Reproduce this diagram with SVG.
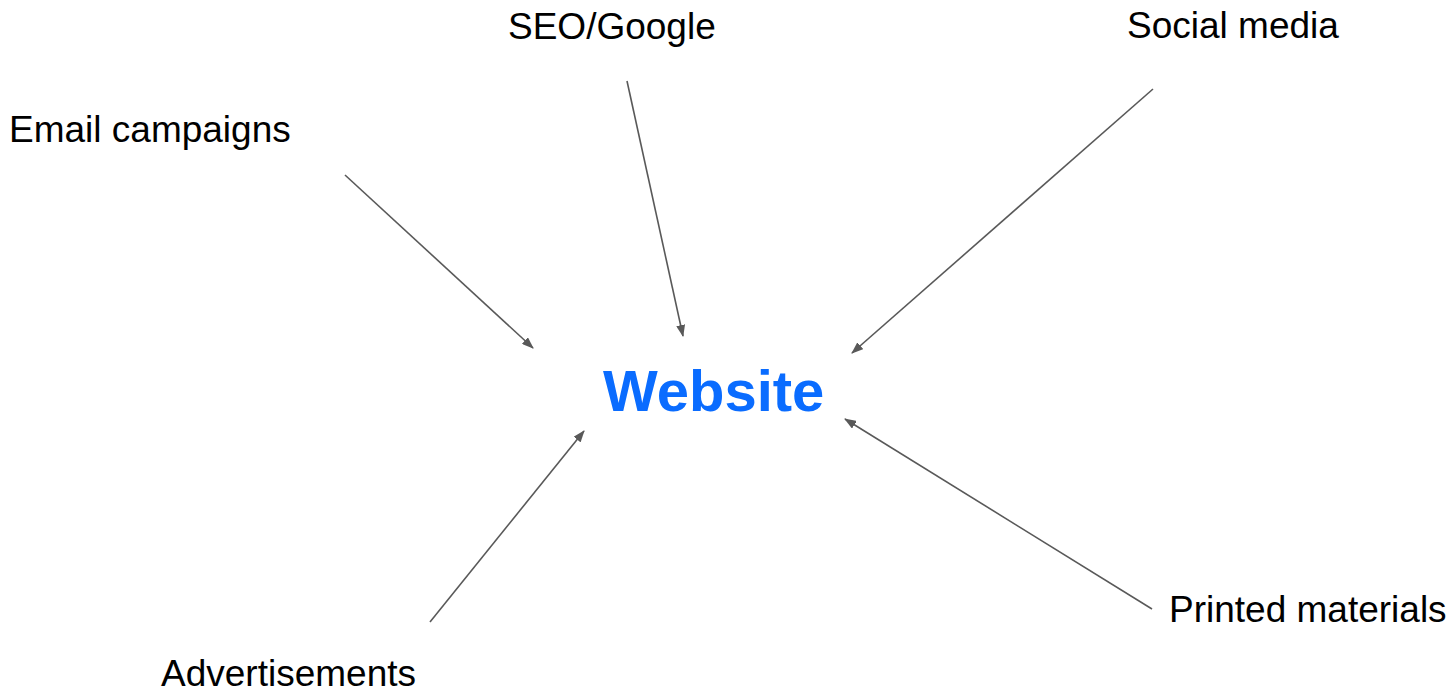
<svg xmlns="http://www.w3.org/2000/svg" width="1454" height="692" viewBox="0 0 1454 692">
<style>
.lbl{font-family:"Liberation Sans",Arial,sans-serif;font-size:37px;fill:#000}
.main{font-family:"Liberation Sans",Arial,sans-serif;font-size:58px;font-weight:bold;fill:#0a6cff}
.conn{stroke:#595959;stroke-width:1.6;fill:none;marker-end:url(#ah)}
</style>
<defs>
<marker id="ah" markerWidth="12" markerHeight="9" refX="11" refY="4.5" orient="auto" markerUnits="userSpaceOnUse" viewBox="0 0 12 9">
<path d="M0,0 L12,4.5 L0,9 Z" fill="#595959"/>
</marker>
</defs>
<rect width="1454" height="692" fill="#fff"/>
<g id="connectors">
<line class="conn" x1="345" y1="175" x2="533" y2="348"/>
<line class="conn" x1="627" y1="81" x2="683" y2="336"/>
<line class="conn" x1="1153" y1="89" x2="852" y2="353"/>
<line class="conn" x1="1152" y1="609" x2="845" y2="419"/>
<line class="conn" x1="430" y1="622" x2="584" y2="431"/>
</g>
<g id="website"><text class="main" x="603" y="411">Website</text></g>
<g id="email"><text class="lbl" x="9" y="142">Email campaigns</text></g>
<g id="seo"><text class="lbl" x="508" y="39">SEO/Google</text></g>
<g id="social"><text class="lbl" x="1127" y="38">Social media</text></g>
<g id="printed"><text class="lbl" x="1169" y="622">Printed materials</text></g>
<g id="ads"><text class="lbl" x="161" y="686">Advertisements</text></g>
</svg>
